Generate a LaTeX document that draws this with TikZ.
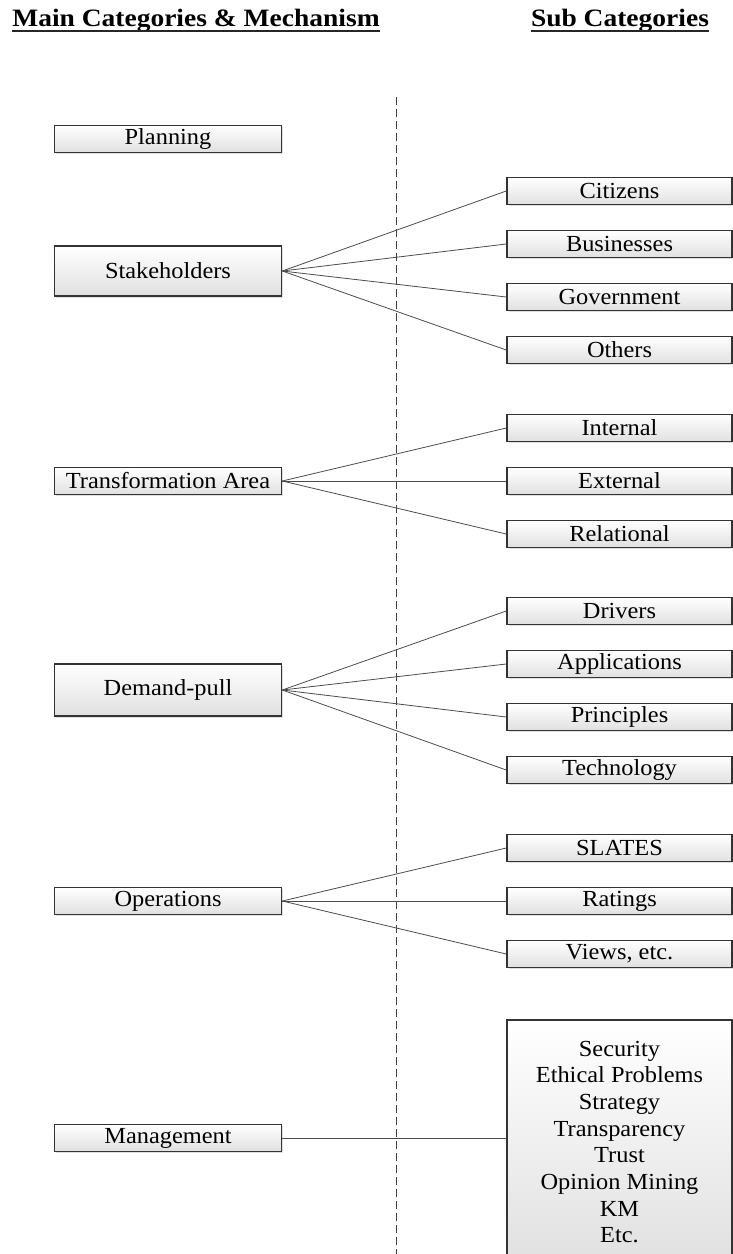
\documentclass[tikz,border=0pt]{standalone}
\usepackage{fontspec}
\setmainfont{Liberation Serif}
\newfontfamily\boxfont[FakeStretch=1.06]{Liberation Serif}
\newfontfamily\headfont[FakeStretch=1.1]{Liberation Serif}
\usetikzlibrary{shadows}
\begin{document}
\begin{tikzpicture}[
x=1pt, y=-1pt,
box/.style={draw=black!80, line width=1.6pt, top color=white, bottom color=black!12,
  drop shadow={opacity=0.25, shadow xshift=1.5pt, shadow yshift=-1.5pt},
  inner sep=0pt, font=\boxfont\fontsize{23}{26.7}\selectfont},
main/.style={box, minimum width=227pt, minimum height=27pt},
sub/.style={box, minimum width=225pt, minimum height=27pt},
head/.style={inner sep=0pt, font=\headfont\fontsize{25}{28}\selectfont\bfseries},
link/.style={draw=black!70, line width=0.8pt}
]
\useasboundingbox (0,0) rectangle (733,1254);
% headings
\node[head] (mainhead) at (196,21) {Main Categories \& Mechanism};
\node[head] (subhead) at (620,21) {Sub Categories};
\foreach \h in {mainhead,subhead}
  \draw[line width=1.8pt, black!85] ([yshift=-4pt]\h.base west) -- ([yshift=-4pt]\h.base east);
\coordinate (sepTop) at (396,97);
\coordinate (sepBot) at (396,1254);
\draw[black!75, line width=0.8pt, dash pattern=on 8pt off 4pt] (sepTop) -- (sepBot);
% main categories
\node[main] (plan) at (168,139) {Planning};
\node[main, minimum height=50pt] (stake) at (168,271) {Stakeholders};
\node[main] (trans) at (168,481) {Transformation Area};
\node[main, minimum height=52pt] (demand) at (168,690) {Demand-pull};
\node[main] (oper) at (168,901) {Operations};
\node[main] (mgmt) at (168,1138) {Management};
% sub categories
\foreach \name/\y/\txt in {cit/191/Citizens, bus/244/Businesses, gov/297/Government, oth/350/Others,
  int/428/Internal, ext/481/External, rel/534/Relational,
  drv/611/Drivers, app/664/Applications, prc/717/Principles, tec/770/Technology,
  sla/848/SLATES, rat/901/Ratings, vie/954/{Views, etc.}}
  \node[sub] (\name) at (619.5,\y) {\txt};
\node[sub, minimum height=244pt, align=center] (mgmtsub) at (619.5,1142)
  {Security\\Ethical Problems\\Strategy\\Transparency\\Trust\\Opinion Mining\\KM\\Etc.};
% links
\foreach \s in {cit,bus,gov,oth} \draw[link] (stake.east) -- (\s.west);
\foreach \s in {int,ext,rel} \draw[link] (trans.east) -- (\s.west);
\foreach \s in {drv,app,prc,tec} \draw[link] (demand.east) -- (\s.west);
\foreach \s in {sla,rat,vie} \draw[link] (oper.east) -- (\s.west);
\draw[link] (mgmt.east) -- (mgmt.east -| mgmtsub.west);
\end{tikzpicture}
\end{document}
